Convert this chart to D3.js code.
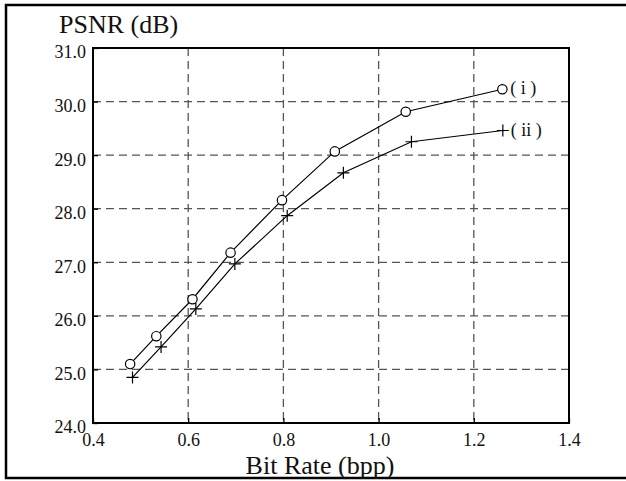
<!DOCTYPE html>
<html>
<head>
<meta charset="utf-8">
<script src="https://cdn.jsdelivr.net/npm/d3@7"></script>
<style>
  body { margin: 0; background: #fff; }
  text { font-family: "Liberation Serif", "DejaVu Serif", serif; fill: #111; }
  .tick text { font-size: 18px; }
</style>
</head>
<body>
<script>
// values
var rateI = [0.478, 0.533, 0.609, 0.689, 0.797, 0.908, 1.057, 1.260];
var psnrI = [25.10, 25.62, 26.31, 27.18, 28.16, 29.07, 29.81, 30.23];
var rateII = [0.483, 0.543, 0.616, 0.698, 0.808, 0.926, 1.069, 1.261];
var psnrII = [24.85, 25.42, 26.13, 26.97, 27.87, 28.67, 29.25, 29.46];
var xTicks = [0.4, 0.6, 0.8, 1.0, 1.2, 1.4];
var yTicks = [24, 25, 26, 27, 28, 29, 30, 31];
var seriesNames = ["( i )", "( ii )"];

var w = 626, h = 481;
var pLeft = 93, pRight = 569, pTop = 48, pBottom = 423;

var svg = d3.select("body").append("svg")
  .attr("width", w)
  .attr("height", h);

// outer frame (open on the right, like the scan)
svg.append("path")
  .attr("d", "M" + w + ",5 L6,5 L6,478 L" + w + ",478")
  .attr("fill", "none")
  .attr("stroke", "#000")
  .attr("stroke-width", 2.5);

var x = d3.scaleLinear().domain([0.4, 1.4]).range([pLeft, pRight]);
var y = d3.scaleLinear().domain([24, 31]).range([pBottom, pTop]);

// dashed grid
svg.selectAll("line.vgrid")
  .data(xTicks.slice(1, -1))
  .enter().append("line")
  .attr("x1", function(d) { return x(d); })
  .attr("x2", function(d) { return x(d); })
  .attr("y1", pTop)
  .attr("y2", pBottom)
  .attr("stroke", "#555")
  .attr("stroke-width", 1.3)
  .attr("stroke-dasharray", "8,5");

svg.selectAll("line.hgrid")
  .data(yTicks.slice(1, -1))
  .enter().append("line")
  .attr("x1", pLeft)
  .attr("x2", pRight)
  .attr("y1", function(d) { return y(d); })
  .attr("y2", function(d) { return y(d); })
  .attr("stroke", "#555")
  .attr("stroke-width", 1.3)
  .attr("stroke-dasharray", "8,5");

// axes with inward ticks
var xAxis = svg.append("g")
  .attr("transform", "translate(0," + pBottom + ")")
  .call(d3.axisBottom(x).tickValues(xTicks).tickFormat(d3.format(".1f"))
    .tickSizeInner(-5).tickSizeOuter(0).tickPadding(10));
var yAxis = svg.append("g")
  .attr("transform", "translate(" + pLeft + ",0)")
  .call(d3.axisLeft(y).tickValues(yTicks).tickFormat(d3.format(".1f"))
    .tickSizeInner(-5).tickSizeOuter(0).tickPadding(7));

[xAxis, yAxis].forEach(function(g) {
  g.attr("font-size", 18).attr("font-family", "Liberation Serif, serif");
  g.select(".domain").remove();
  g.selectAll("line").attr("stroke", "#000").attr("stroke-width", 1.3);
  g.selectAll("text").attr("fill", "#111");
});
yAxis.selectAll("text").attr("dy", "0.55em");
xAxis.selectAll("text").attr("dy", "0.71em");

// plot border
svg.append("rect")
  .attr("x", pLeft)
  .attr("y", pTop)
  .attr("width", pRight - pLeft)
  .attr("height", pBottom - pTop)
  .attr("fill", "none")
  .attr("stroke", "#000")
  .attr("stroke-width", 2);

var line = d3.line()
  .x(function(d) { return x(d[0]); })
  .y(function(d) { return y(d[1]); });

var ptsI = d3.zip(rateI, psnrI);
var ptsII = d3.zip(rateII, psnrII);

svg.append("path")
  .datum(ptsI)
  .attr("d", line)
  .attr("fill", "none")
  .attr("stroke", "#000")
  .attr("stroke-width", 1.2);
svg.append("path")
  .datum(ptsII)
  .attr("d", line)
  .attr("fill", "none")
  .attr("stroke", "#000")
  .attr("stroke-width", 1.2);

svg.selectAll("circle.pt")
  .data(ptsI)
  .enter().append("circle")
  .attr("cx", function(d) { return x(d[0]); })
  .attr("cy", function(d) { return y(d[1]); })
  .attr("r", 4.7)
  .attr("fill", "#fff")
  .attr("stroke", "#000")
  .attr("stroke-width", 1.2);

svg.selectAll("path.plus")
  .data(ptsII)
  .enter().append("path")
  .attr("d", function(d) {
    var cx = x(d[0]), cy = y(d[1]);
    return "M" + (cx - 6) + "," + cy + "H" + (cx + 6) +
      "M" + cx + "," + (cy - 6) + "V" + (cy + 6);
  })
  .attr("stroke", "#000")
  .attr("stroke-width", 1.2);

// series labels at the last point
var lastPts = [ptsI[ptsI.length - 1], ptsII[ptsII.length - 1]];
svg.selectAll("text.lab")
  .data(lastPts)
  .enter().append("text")
  .attr("x", function(d) { return x(d[0]) + 8; })
  .attr("y", function(d) { return y(d[1]) + 5; })
  .style("font-size", "18px")
  .text(function(d, i) { return seriesNames[i]; });

// axis titles
svg.append("text")
  .attr("x", 59)
  .attr("y", 33)
  .style("font-size", "26px")
  .text("PSNR (dB)");

svg.append("text")
  .attr("x", 320)
  .attr("y", 474)
  .attr("text-anchor", "middle")
  .style("font-size", "26px")
  .text("Bit Rate (bpp)");
</script>
</body>
</html>
